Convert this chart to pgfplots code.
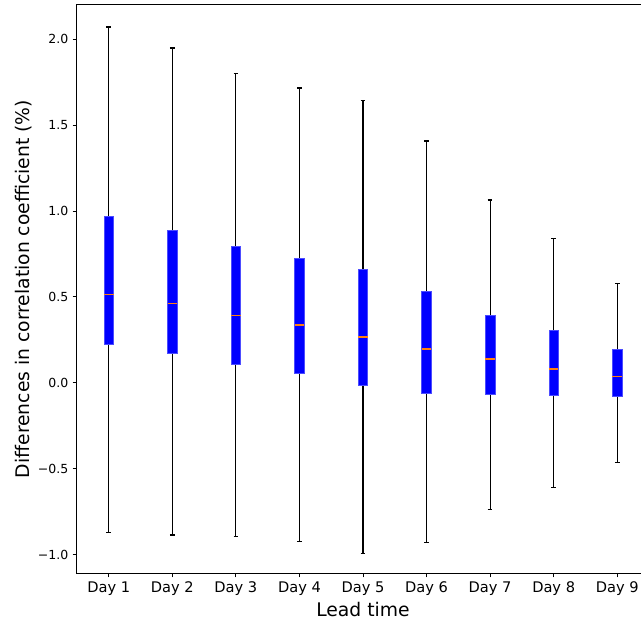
\documentclass[border=0pt]{standalone}
\usepackage{fontspec}
\setmainfont{DejaVu Sans}
\usepackage{pgfplots}
\pgfplotsset{compat=1.18}
\usepgfplotslibrary{statistics}
\begin{document}
\begin{tikzpicture}
\begin{axis}[
  scale only axis,
  width=457.6pt, height=454.4pt,
  xmin=0.5, xmax=9.5,
  ymin=-1.105, ymax=2.198,
  xtick={1,2,3,4,5,6,7,8,9},
  xticklabels={Day 1,Day 2,Day 3,Day 4,Day 5,Day 6,Day 7,Day 8,Day 9},
  ytick={-1,-0.5,0,0.5,1,1.5,2},
  yticklabels={−1.0,−0.5,0.0,0.5,1.0,1.5,2.0},
  x tick label style={font=\fontsize{11.7}{14}\selectfont},
  y tick label style={font=\fontsize{10}{12}\selectfont},
  tick align=outside,
  major tick length=3.5pt,
  tick style={black, line width=0.8pt},
  xtick pos=bottom, ytick pos=left,
  axis line style={line width=0.8pt},
  xlabel={Lead time},
  ylabel={Differences in correlation coefficient (\%)},
  label style={font=\fontsize{15}{18}\selectfont},
  xlabel style={yshift=2pt},
  ylabel style={yshift=-2pt},
  boxplot/draw direction=y,
  boxplot/box extend=0.15,
  boxplot/whisker extend=0.075,
  boxplot/every box/.style={fill=blue, draw=blue!70!white, line width=0.5pt},
  boxplot/every median/.style={draw={rgb,255:red,255;green,127;blue,14}, line width=1pt},
  boxplot/every whisker/.style={black, line width=0.9pt},
]
\addplot[boxplot prepared={lower whisker=-0.868, lower quartile=0.227, median=0.516, upper quartile=0.972, upper whisker=2.070, draw position=1}] coordinates {};
\addplot[boxplot prepared={lower whisker=-0.884, lower quartile=0.170, median=0.461, upper quartile=0.890, upper whisker=1.948, draw position=2}] coordinates {};
\addplot[boxplot prepared={lower whisker=-0.895, lower quartile=0.110, median=0.393, upper quartile=0.795, upper whisker=1.802, draw position=3}] coordinates {};
\addplot[boxplot prepared={lower whisker=-0.924, lower quartile=0.058, median=0.337, upper quartile=0.727, upper whisker=1.715, draw position=4}] coordinates {};
\addplot[boxplot prepared={lower whisker=-0.994, lower quartile=-0.012, median=0.267, upper quartile=0.663, upper whisker=1.645, draw position=5}] coordinates {};
\addplot[boxplot prepared={lower whisker=-0.930, lower quartile=-0.058, median=0.198, upper quartile=0.535, upper whisker=1.407, draw position=6}] coordinates {};
\addplot[boxplot prepared={lower whisker=-0.738, lower quartile=-0.068, median=0.140, upper quartile=0.395, upper whisker=1.064, draw position=7}] coordinates {};
\addplot[boxplot prepared={lower whisker=-0.610, lower quartile=-0.074, median=0.081, upper quartile=0.304, upper whisker=0.839, draw position=8}] coordinates {};
\addplot[boxplot prepared={lower whisker=-0.463, lower quartile=-0.077, median=0.039, upper quartile=0.196, upper whisker=0.581, draw position=9}] coordinates {};
\coordinate (sw) at (rel axis cs:0,0);
\coordinate (ne) at (rel axis cs:1,1);
\end{axis}
\pgfresetboundingbox
\path[use as bounding box] ([shift={(-61.6pt,-41.6pt)}]sw) rectangle ([shift={(-6.4pt,4pt)}]ne);
\end{tikzpicture}
\end{document}
